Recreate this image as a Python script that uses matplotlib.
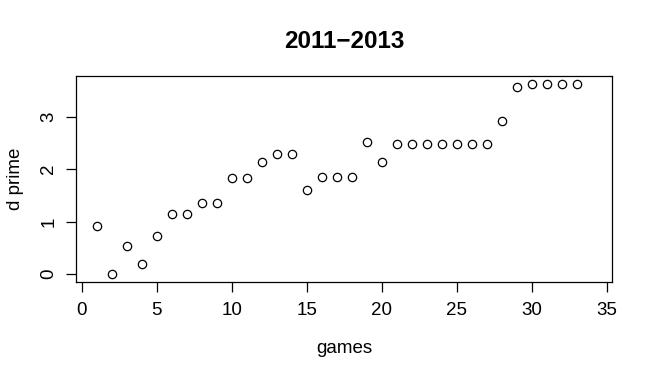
import matplotlib
matplotlib.use("Agg")
import matplotlib.pyplot as plt

games = list(range(1, 34))
dprime = [0.92, -0.01, 0.53, 0.18, 0.73, 1.14, 1.14, 1.35, 1.35, 1.83,
          1.83, 2.14, 2.29, 2.29, 1.60, 1.85, 1.85, 1.85, 2.51, 2.14,
          2.48, 2.48, 2.48, 2.48, 2.48, 2.48, 2.48, 2.92, 3.57, 3.63,
          3.63, 3.63, 3.63]
xticks = [0, 5, 10, 15, 20, 25, 30, 35]
yticks = [0, 1, 2, 3]

plt.rcParams['font.family'] = ['Liberation Sans', 'DejaVu Sans']
fig = plt.figure(figsize=(6.5, 3.78), dpi=100)
ax = fig.add_axes([76/650, 1-282/378, (612-76)/650, (282-76)/378])
ax.plot(games, dprime, linestyle='none', marker='o', markersize=6,
        markerfacecolor='none', markeredgecolor='black', markeredgewidth=0.9)
ax.set_xlim(-0.38, 35.35)
ax.set_ylim(-0.155, 3.78)
ax.set_xticks(xticks)
ax.set_yticks(yticks)
ax.set_xticklabels([str(t) for t in xticks], fontsize=13.5)
ax.set_yticklabels([str(t) for t in yticks], fontsize=13.5, rotation=90, va='center')
ax.tick_params(direction='out', length=7, width=0.9)
ax.tick_params(axis='x', pad=7.5)
ax.tick_params(axis='y', pad=6.5)
for s in ax.spines.values():
    s.set_linewidth(0.9)
ax.set_xlabel('games', fontsize=13.5, labelpad=15)
ax.set_ylabel('d prime', fontsize=13.5, labelpad=12)
fig.text(344/650, 1-41/378, '2011\u22122013', fontsize=17.5, fontweight='bold',
         ha='center', va='center')
fig.savefig('out.png', dpi=100)
